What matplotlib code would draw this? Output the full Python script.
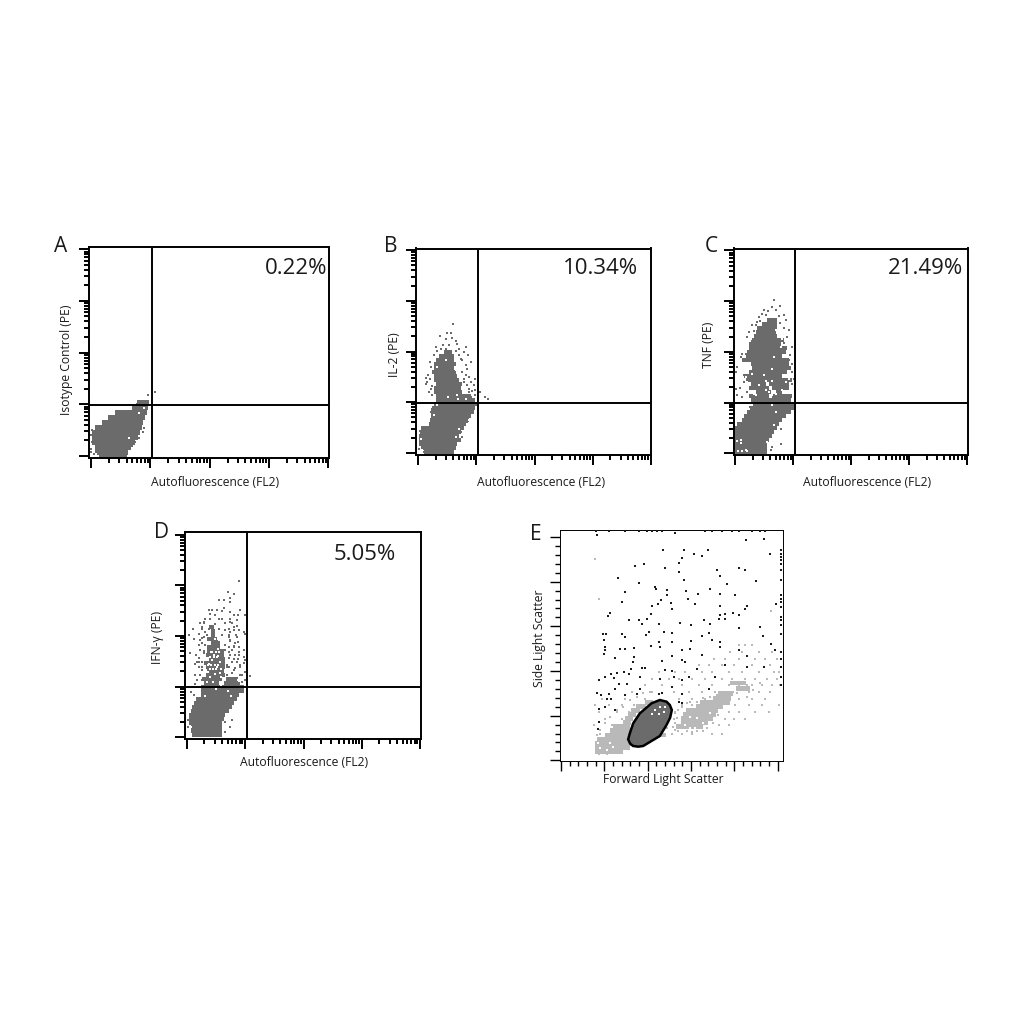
import numpy as np
import matplotlib
matplotlib.use("Agg")
import matplotlib.pyplot as plt
from matplotlib.patches import Polygon

plt.rcParams["font.family"] = ["Open Sans", "DejaVu Sans"]

DARK = "#6b6b6b"
LIGHT = "#b9b9b9"
INK = "#1a1a1a"

# ----------------------------
# Panel A, isotype control
# ----------------------------
a_row_y = [4, 16, 31, 46, 61, 76, 91, 106, 121, 136, 151, 166]
a_row_left = [30, 18, 18, 9, 9, 9, 18, 39, 57, 78, 128, 145]
a_row_right = [114, 117, 126, 138, 147, 153, 159, 162, 168, 175, 178, 180]
a_dot_x = [178, 198, 155, 178, 133, 145, 163, 138, 151, 123, 115, 5, 8, 5, 8, 15, 5, 23, 125, 165, 150, 128]
a_dot_y = [189, 197, 170, 170, 157, 162, 77, 47, 77, 27, 12, 27, 47, 67, 82, 12, 17, 12, 140, 90, 60, 35]
a_hole_x = [13, 20, 120, 165, 150]
a_hole_y = [20, 10, 60, 150, 135]

# ----------------------------
# Panel B, IL-2
# ----------------------------
b_row_y = [8, 20, 32, 44, 56, 68, 80, 92, 104, 116, 128, 140, 152, 164, 176, 188, 200, 212, 224, 236, 248, 260, 272, 284, 296, 308]
b_row_left = [24, 14, 9, 9, 9, 12, 14, 39, 42, 44, 44, 49, 54, 59, 60, 54, 54, 59, 54, 54, 49, 54, 54, 59, 69, 84]
b_row_right = [114, 119, 124, 134, 129, 134, 144, 149, 159, 164, 174, 179, 184, 179, 165, 139, 134, 139, 129, 124, 119, 114, 119, 114, 114, 109]
b_dot_x = [111, 72, 94, 104, 91, 109, 119, 59, 74, 89, 149, 124, 129, 144, 156, 54, 129, 139, 41, 164, 149, 44, 154, 139,
           144, 159, 29, 42, 179, 34, 144, 164, 29, 154, 44, 159, 174, 179, 39, 159, 194, 209, 216, 179, 49, 144, 164,
           49, 44, 52, 159, 154, 134, 139, 12, 114, 9, 19, 24, 64, 82, 100, 120, 135, 150, 168, 47, 35]
b_dot_y = [393, 356, 366, 365, 348, 351, 341, 323, 318, 318, 323, 333, 318, 308, 298, 298, 298, 283, 278, 278, 268, 263, 258, 248,
           228, 233, 231, 228, 228, 218, 218, 218, 213, 208, 198, 198, 208, 193, 188, 188, 188, 173, 166, 178, 178, 173, 173,
           138, 128, 103, 113, 98, 68, 53, 70, 28, 18, 18, 8, 310, 328, 330, 310, 288, 240, 190, 205, 240]
b_hole_x = [97, 124, 127, 149, 64, 49, 54, 159, 129, 119, 14, 89, 119, 64, 129, 19]
b_hole_y = [173, 178, 168, 168, 148, 148, 118, 103, 78, 53, 48, 283, 253, 263, 273, 13]

# ----------------------------
# Panel C, TNF
# ----------------------------
c_row_y = [8, 20, 32, 44, 56, 68, 80, 92, 104, 116, 128, 140, 152, 164, 176, 176, 188, 188, 200, 200, 212, 212, 224,
           236, 248, 260, 272, 284, 296, 308, 320, 332, 344, 356, 368, 380, 392, 404]
c_row_left = [4, 4, 4, 4, 4, 4, 4, 11, 26, 31, 41, 46, 56, 51, 46, 116, 66, 126, 46, 116, 51, 106, 36,
              31, 46, 56, 51, 26, 36, 41, 46, 46, 56, 61, 66, 71, 86, 101]
c_row_right = [101, 101, 101, 106, 116, 121, 131, 136, 146, 156, 171, 181, 181, 171, 106, 176, 111, 146, 106, 166, 96, 166, 176,
               146, 161, 171, 166, 166, 146, 156, 161, 141, 151, 131, 126, 131, 131, 131]
c_dot_x = [121, 116, 139, 91, 103, 86, 126, 76, 151, 158, 71, 68, 46, 56, 166, 161, 41, 176, 26, 36, 21, 31, 11, 166, 176,
           176, 6, 31, 176, 6, 181, 26, 11, 41, 141, 111, 114, 141, 168, 150, 30, 20, 140, 150, 136, 55, 62, 80, 96]
c_dot_y = [465, 443, 445, 433, 431, 423, 433, 413, 418, 403, 398, 388, 368, 388, 373, 353, 353, 323, 303, 303, 293, 283, 263, 283, 273,
           248, 248, 218, 213, 198, 228, 173, 178, 188, 31, 13, 23, 78, 300, 335, 240, 200, 395, 380, 415, 340, 372, 400, 418]
c_hole_x = [91, 56, 36, 116, 121, 141, 126, 146, 156, 96, 116, 76, 61, 106, 116, 126, 146, 166, 156, 41, 66, 116, 56, 126,
            96, 46, 101, 121, 11, 21, 21, 14, 26, 36, 40]
c_hole_y = [238, 243, 233, 258, 293, 323, 373, 348, 348, 220, 220, 208, 183, 188, 178, 183, 193, 228, 218, 218, 178, 148, 148, 128,
            193, 138, 38, 88, 40, 45, 35, 12, 12, 15, 10]

# ----------------------------
# Panel D, IFN-gamma
# ----------------------------
d_row_y = [12, 24, 36, 48, 60, 72, 84, 96, 108, 120, 132, 144, 156, 168, 168, 180, 180, 192, 204, 216, 228, 240, 252, 264, 276, 288, 300, 312, 324, 336]
d_row_left = [22, 18, 18, 13, 13, 13, 18, 23, 28, 33, 48, 48, 48, 58, 118, 53, 123, 63, 68, 63, 58, 73, 63, 68, 68, 78, 68, 78, 78, 73]
d_row_right = [112, 112, 112, 112, 117, 122, 132, 142, 147, 157, 162, 177, 177, 102, 162, 113, 157, 122, 117, 122, 122, 122, 117, 117, 107, 107, 97, 92, 92, 87]
d_dot_x = [162, 130, 149, 137, 104, 119, 137, 119, 72, 82, 97, 167, 112, 137, 75, 92, 147, 159, 182, 62, 77, 102, 112, 137,
           47, 59, 92, 122, 142, 157, 25, 52, 72, 82, 102, 132, 147, 42, 12, 67, 87, 112, 132, 182, 155, 47, 77, 97, 137,
           27, 159, 62, 82, 102, 122, 147, 15, 35, 57, 132, 162, 182, 42, 32, 147, 159, 52, 167, 127, 147, 47, 167, 182,
           182, 195, 37, 52, 147, 32, 162, 19, 27, 142, 122, 122, 137, 9, 9, 15, 25,
           57, 137, 157, 52, 147, 162, 177, 137, 57, 132, 157, 42, 162, 177, 152, 142, 137, 162, 37, 52, 157, 177, 42, 167,
           152, 177, 182, 32, 47, 172, 157, 132, 142, 132, 127, 142, 152, 132, 122, 42, 47, 52, 52, 62, 122, 137, 147, 57,
           127, 52, 142, 132, 162, 172]
d_dot_y = [473, 441, 434, 424, 416, 416, 411, 394, 388, 388, 386, 388, 384, 381, 376, 371, 373, 373, 373, 361, 361, 361, 361, 361,
           348, 348, 346, 348, 348, 338, 331, 331, 331, 331, 331, 331, 326, 316, 311, 311, 311, 311, 311, 316, 311, 296, 296, 294, 294,
           301, 291, 281, 281, 278, 281, 278, 258, 251, 264, 261, 261, 238, 231, 224, 241, 241, 216, 216, 216, 206, 191, 191, 201,
           176, 188, 176, 176, 178, 164, 166, 141, 131, 58, 51, 21, 36, 56, 36, 21, 16,
           350, 352, 357, 337, 337, 327, 320, 322, 307, 307, 307, 282, 277, 267, 287, 267, 252, 252, 232, 232, 232, 247, 217, 222,
           212, 227, 202, 192, 192, 192, 182, 242, 232, 217, 192, 197, 252, 277, 267, 242, 267, 287, 302, 322, 327, 297, 277, 257,
           222, 207, 182, 172, 167, 172]
d_hole_x = [82, 72, 97, 87, 80, 100, 105, 90, 75, 110, 70, 95, 85, 130, 100, 15, 20, 140, 60, 115, 83, 93, 103, 77, 88,
            98, 70, 80, 90, 100, 110, 75, 85, 95, 105, 108, 68, 92]
d_hole_y = [236, 226, 216, 251, 262, 270, 232, 196, 185, 160, 200, 150, 172, 145, 250, 20, 35, 130, 130, 175, 260, 260, 260, 246, 246,
            246, 222, 222, 222, 222, 210, 210, 210, 210, 198, 185, 172, 300]

# ----------------------------
# Panel E, light scatter
# ----------------------------
e_row_y = [28, 41, 53, 65, 78, 78, 91, 103, 103, 115, 115, 127, 127, 139, 139, 151, 151, 163, 163, 175, 175, 187, 203, 218, 235]
e_row_left = [106, 106, 106, 111, 136, 250, 150, 160, 350, 190, 365, 195, 365, 205, 370, 215, 380, 230, 410, 255, 420, 460, 475, 530, 510]
e_row_right = [190, 210, 240, 205, 210, 320, 215, 210, 430, 215, 445, 220, 460, 230, 470, 240, 475, 260, 490, 280, 510, 515, 520, 570, 560]
e_band_hole_x = [121, 141, 161, 116, 151, 411, 391, 431, 451, 376, 391, 371, 406]
e_band_hole_y = [38, 33, 41, 53, 53, 128, 133, 113, 143, 108, 98, 93, 98]

e_grey_x = [107, 119, 635, 537, 557, 577, 512, 547, 597, 637, 462, 497, 537, 587, 617, 652, 417, 447, 487, 522, 577, 632,
            297, 347, 377, 427, 457, 507, 547, 597, 642, 657, 277, 327, 357, 397, 437, 487, 517, 557, 587, 622, 652,
            257, 307, 367, 417, 457, 507, 537, 577, 607, 637, 662, 217, 277, 342, 387, 427, 467, 517, 567, 597, 632,
            127, 197, 257, 357, 397, 437, 537, 577, 617, 107, 147, 187, 222, 367, 397, 527, 567, 607, 657,
            117, 172, 207, 347, 507, 537, 587, 627, 137, 187, 342, 497, 522, 557, 102, 157, 197, 477, 507,
            122, 147, 197, 337, 367, 397, 457, 487, 117, 142,
            321, 341, 346, 356, 381, 396, 411, 431, 346, 353, 346, 356, 366, 381, 391, 411, 431, 451, 471, 491, 521, 531,
            546, 561, 581, 601, 561, 501, 486, 476, 461, 441, 151, 136, 121, 111, 171, 191, 211, 231, 251, 271, 121]
e_grey_y = [607, 485, 450, 347, 347, 347, 327, 327, 327, 327, 307, 307, 307, 307, 307, 307, 287, 287, 287, 287, 287, 287,
            267, 267, 267, 267, 267, 267, 267, 267, 267, 267, 247, 247, 247, 247, 247, 247, 247, 247, 247, 247, 247,
            227, 227, 227, 227, 227, 227, 227, 227, 227, 227, 227, 207, 207, 207, 207, 207, 207, 207, 207, 207, 207,
            187, 187, 187, 187, 187, 187, 187, 187, 187, 167, 167, 167, 167, 167, 167, 167, 167, 167, 167,
            147, 147, 147, 147, 147, 147, 147, 147, 127, 127, 127, 127, 127, 127, 107, 107, 107, 107, 107,
            82, 82, 82, 82, 82, 82, 82, 82, 22, 22,
            98, 103, 93, 91, 91, 88, 90, 91, 113, 128, 143, 153, 163, 173, 178, 178, 188, 193, 198, 203, 208, 203,
            218, 228, 213, 233, 193, 178, 163, 138, 113, 98, 133, 113, 93, 78, 153, 163, 183, 193, 203, 208, 58]

e_black_x = [110, 147, 197, 237, 262, 277, 292, 307, 347, 437, 457, 487, 517, 537, 577, 602, 617, 112,
             560, 612, 310, 372, 404, 445, 427, 632, 367, 357, 227, 254, 317, 357, 472, 539, 555, 482, 176, 372, 590, 239, 502,
             285, 289, 452, 322, 379, 197, 415, 322, 482, 527, 385, 305, 187, 295, 335, 405, 277, 649, 482, 562, 337, 557,
             150, 275, 519, 482, 495, 537, 145, 262, 207, 239, 432, 477, 495, 247, 297, 362, 395, 452, 537, 602,
             267, 129, 139, 187, 312, 337, 449, 259, 197, 427, 609, 132, 297, 337, 394, 457, 482, 275, 137, 302, 197, 182, 222,
             392, 367, 137, 132, 222, 337, 167, 427, 480, 537, 562, 634, 647, 367, 377, 307, 219, 562, 247, 255, 215, 317, 337,
             412, 497, 612, 119, 155, 172, 192, 207, 137, 162, 177, 242, 302, 342, 367, 387, 467, 202, 242, 112, 125, 147, 167,
             197, 232, 142, 155, 297, 307, 337, 367, 447, 357, 367, 119, 165, 119, 115, 137,
             665, 665, 665, 665, 665, 665, 665, 665, 665, 665, 665, 665, 665, 665, 665, 665, 665, 665, 665, 665]
e_black_y = [690, 690, 690, 690, 690, 690, 690, 690, 684, 690, 690, 690, 690, 690, 690, 690, 690, 677,
             662, 667, 632, 632, 622, 632, 615, 622, 609, 595, 585, 592, 580, 567, 574, 580, 574, 554, 549, 542, 539, 534, 532,
             522, 517, 517, 512, 510, 507, 502, 497, 500, 497, 487, 482, 477, 472, 474, 470, 464, 470, 464, 465, 457, 455,
             445, 440, 444, 437, 440, 437, 434, 427, 424, 424, 424, 427, 427, 412, 412, 414, 407, 412, 400, 402,
             387, 382, 382, 382, 387, 384, 384, 377, 372, 374, 374, 362, 357, 357, 360, 362, 357, 344, 342, 342, 337, 337, 340,
             337, 332, 332, 320, 312, 314, 310, 317, 342, 332, 314, 350, 332, 302, 297, 299, 297, 282, 279, 279, 275, 272, 270,
             277, 287, 282, 244, 262, 264, 267, 260, 252, 250, 232, 252, 247, 252, 242, 252, 252, 232, 217, 205, 197, 202, 217,
             197, 202, 187, 187, 202, 204, 222, 202, 217, 177, 174, 157, 152, 117, 97, 162,
             632, 622, 612, 602, 592, 572, 542, 497, 487, 477, 462, 432, 422, 407, 382, 327, 307, 282, 252, 227]

e_gate_x = [206, 212, 221, 236, 251, 276, 301, 321, 332, 337, 331, 321, 301, 276, 241, 221, 211]
e_gate_y = [65, 52, 45, 43, 45, 60, 75, 108, 130, 153, 168, 178, 183, 173, 143, 113, 83]
e_hole_x = [287, 302, 312, 297, 317, 277]
e_hole_y = [152, 162, 147, 142, 162, 142]

percent_labels = ["0.22%", "10.34%", "21.49%", "5.05%"]
letters = ["A", "B", "C", "D", "E"]
y_labels = ["Isotype Control (PE)", "IL-2 (PE)", "TNF (PE)", "IFN-\u03b3 (PE)", "Side Light Scatter"]
x_labels = ["Autofluorescence (FL2)"] * 4 + ["Forward Light Scatter"]

# box in pixels: left, right, top, bottom
boxes = [(89, 329, 247, 457.5), (416, 651, 248.5, 454.5), (733.5, 968, 248.5, 454.5), (184.5, 420.5, 532, 739)]
gates_x = [190, 187, 185, 188]
gates_y = [157, 155, 154, 156]
x_ticks0 = [6, 7, 5, 7]
y_ticks0 = [5, 5, 4, 5]
x_decade = [178, 175, 174, 175]
y_decade = [155, 152, 152, 152]
row_height = [15, 12, 12, 12]
letter_xy = [(61, 246), (391, 246), (711, 246), (162, 533), (536, 534)]
xlabel_xy = [(215.5, 482), (541, 482), (867.5, 482), (304, 763), (663, 779)]
ylabel_xy = [(66.5, 360), (395, 355), (708.5, 345), (158, 637), (540, 638)]
pct_xy = [(327, 269), (638, 269), (963, 269), (396, 554)]


def px(x, y):
    return x / 1024, 1 - y / 1024


def make_axes(fig, box):
    left, right, top, bottom = box
    ax = fig.add_axes([left / 1024, 1 - bottom / 1024, (right - left) / 1024, (bottom - top) / 1024])
    ax.set_xlim(0, (right - left) * 3)
    ax.set_ylim(0, (bottom - top) * 3)
    return ax


def log_ticks(start, decade):
    # four log decades, ticks at 1..9 in each
    major = [start + decade * d for d in range(5)]
    minor = []
    for d in range(4):
        for m in range(2, 10):
            minor.append(start + decade * (d + np.log10(m)))
    return major, minor


def style_ticks(ax, width):
    ax.tick_params(which="major", length=7, width=width, labelbottom=False, labelleft=False)
    ax.tick_params(which="minor", length=3.5, width=width)
    ax.tick_params(which="both", color="black")


def dots(ax, x, y, color, size=3.6):
    ax.scatter(x, y, s=size, marker="s", c=color, linewidths=0, zorder=3)


def draw_rows(ax, row_y, left, right, color, height=15):
    widths = np.array(right) - np.array(left)
    ax.barh(row_y, widths, left=left, height=height, color=color, linewidth=0, zorder=2)


fig = plt.figure(figsize=(10.24, 10.24), dpi=100)

rows = [(a_row_y, a_row_left, a_row_right), (b_row_y, b_row_left, b_row_right),
        (c_row_y, c_row_left, c_row_right), (d_row_y, d_row_left, d_row_right)]
points = [(a_dot_x, a_dot_y), (b_dot_x, b_dot_y), (c_dot_x, c_dot_y), (d_dot_x, d_dot_y)]
holes = [(a_hole_x, a_hole_y), (b_hole_x, b_hole_y), (c_hole_x, c_hole_y), (d_hole_x, d_hole_y)]

for i in range(4):
    ax = make_axes(fig, boxes[i])
    draw_rows(ax, *rows[i], DARK, height=row_height[i])
    dots(ax, *points[i], DARK)
    dots(ax, *holes[i], "white", size=3.6)
    ax.axvline(gates_x[i], color="black", lw=1.4, zorder=4)
    ax.axhline(gates_y[i], color="black", lw=1.4, zorder=4)
    major, minor = log_ticks(x_ticks0[i], x_decade[i])
    ax.set_xticks(major)
    ax.set_xticks(minor, minor=True)
    major, minor = log_ticks(y_ticks0[i], y_decade[i])
    ax.set_yticks(major)
    ax.set_yticks(minor, minor=True)
    style_ticks(ax, 1.4)
    for s in ax.spines.values():
        s.set_linewidth(1.4)
    tx, ty = px(*pct_xy[i])
    fig.text(tx, ty, percent_labels[i], fontsize=16, ha="right", va="center", color=INK)

# light scatter panel
ax = make_axes(fig, (559.5, 782.5, 530, 761))
draw_rows(ax, e_row_y, e_row_left, e_row_right, LIGHT, height=13)
dots(ax, e_grey_x, e_grey_y, LIGHT, size=3)
dots(ax, e_band_hole_x, e_band_hole_y, "white", size=2.4)
dots(ax, e_black_x, e_black_y, INK, size=2.8)
ax.add_patch(Polygon(np.column_stack([e_gate_x, e_gate_y]), closed=True, facecolor=DARK,
                     edgecolor="black", linewidth=1.8, zorder=4))
ax.scatter(e_hole_x, e_hole_y, s=2.4, marker="s", c="white", linewidths=0, zorder=5)
ax.set_xticks(np.arange(4, 669, 130))
ax.set_xticks(np.arange(4, 669, 26), minor=True)
ax.set_yticks(np.arange(2, 690, 134))
ax.set_yticks(np.arange(2, 690, 26.8), minor=True)
style_ticks(ax, 1.0)
for s in ax.spines.values():
    s.set_linewidth(0.7)

for i in range(5):
    tx, ty = px(*letter_xy[i])
    fig.text(tx, ty, letters[i], fontsize=15, ha="center", va="center", color=INK)
    tx, ty = px(*xlabel_xy[i])
    fig.text(tx, ty, x_labels[i], fontsize=8.7, ha="center", va="center", color=INK)
    tx, ty = px(*ylabel_xy[i])
    fig.text(tx, ty, y_labels[i], fontsize=8.7, ha="center", va="center", rotation=90, color=INK)

fig.savefig("out.png", dpi=100)
